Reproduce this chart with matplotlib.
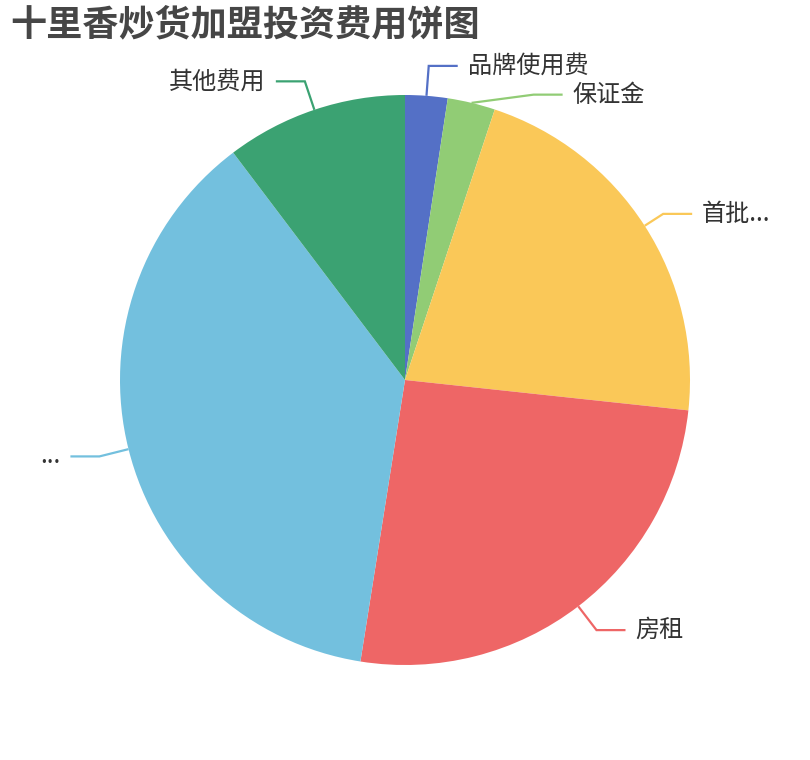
import numpy as np
import matplotlib
matplotlib.use("Agg")
import matplotlib.pyplot as plt

plt.rcParams['font.family'] = ['Noto Sans CJK SC', 'DejaVu Sans']

title = "十里香炒货加盟投资费用饼图"
labels = ["品牌使用费", "保证金", "首批...", "房租", "...", "其他费用"]
values = [2.4, 2.7, 21.6, 25.8, 37.2, 10.3]
colors = ["#5470c6", "#91cc75", "#fac858", "#ee6666", "#73c0de", "#3ba272"]

# layout (pixel units)
W, H = 810, 760
cx, cy, R = 405, 380, 285
len1, len2, gap = 30, 29, 10
label_len1 = {1: 28, 2: 22}
label_dy = {1: 19}  # downward shift (px) to avoid overlap

fig = plt.figure(figsize=(W / 100, H / 100), dpi=100)
ax = fig.add_axes([0, 0, 1, 1])

wedges, _ = ax.pie(values, colors=colors, startangle=90, counterclock=False,
                   center=(cx, H - cy), radius=R,
                   wedgeprops=dict(linewidth=0, edgecolor='none'))
ax.set_xlim(0, W)
ax.set_ylim(0, H)
ax.set_aspect('equal')
ax.axis('off')

for i, w in enumerate(wedges):
    mid = np.deg2rad((w.theta1 + w.theta2) / 2)
    dx, dy = np.cos(mid), np.sin(mid)
    L1 = label_len1.get(i, len1)
    x0, y0 = cx + R * dx, (H - cy) + R * dy
    x1, y1 = cx + (R + L1) * dx, (H - cy) + (R + L1) * dy
    if i in label_dy:
        y1 -= label_dy[i]
        rr = R + L1
        ddy = y1 - (H - cy)
        x1 = cx + np.sign(dx) * np.sqrt(max(rr ** 2 - ddy ** 2, 0))
    side = 1 if dx >= 0 else -1
    x2 = x1 + side * len2
    ax.plot([x0, x1, x2], [y0, y1, y1], color=colors[i], lw=1.6,
            solid_capstyle='butt', solid_joinstyle='miter')
    ax.text(x2 + side * gap, y1, labels[i], ha='left' if side > 0 else 'right',
            va='center', fontsize=17.4, color='#333333')

fig.text(10 / W, 1 - 25 / H, title, fontsize=26, fontweight='bold',
         color='#464646', ha='left', va='center')

fig.savefig("out.png", dpi=100)
